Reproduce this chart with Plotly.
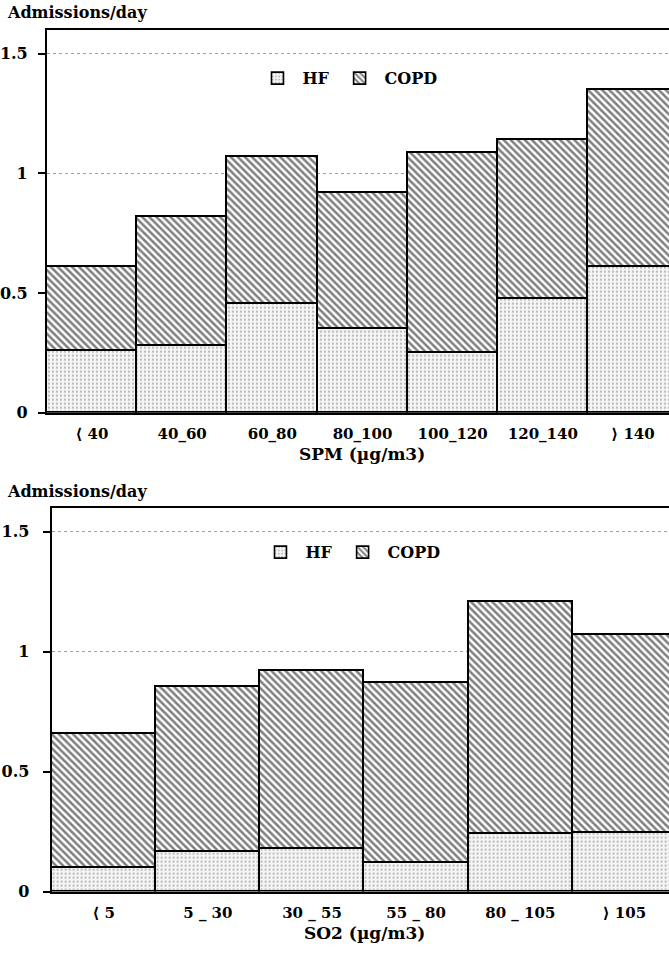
import plotly.graph_objects as go

# Daily admissions by pollutant band: heart failure (HF) and COPD, stacked
spm_bands = ["⟨ 40", "40_60", "60_80", "80_100", "100_120", "120_140", "⟩ 140"]
spm_total = [0.61, 0.82, 1.07, 0.92, 1.085, 1.14, 1.35]
spm_hf = [0.26, 0.28, 0.455, 0.35, 0.25, 0.475, 0.61]
spm_copd = [t - h for t, h in zip(spm_total, spm_hf)]

so2_bands = ["⟨ 5", "5 _ 30", "30 _ 55", "55 _ 80", "80 _ 105", "⟩ 105"]
so2_total = [0.66, 0.855, 0.92, 0.87, 1.21, 1.07]
so2_hf = [0.10, 0.165, 0.18, 0.12, 0.24, 0.245]
so2_copd = [t - h for t, h in zip(so2_total, so2_hf)]

y_ticks = [0, 0.5, 1, 1.5]
y_ticktext = ["0", "0.5", "1", "1.5"]

W, H = 669, 958
FONT = "DejaVu Serif"


def px_x(v):
    return v / W


def px_y(v):
    return 1 - v / H


hf_style = dict(
    color="#f4f4f4",
    line=dict(color="black", width=1.6),
    pattern=dict(shape=".", fgcolor="#7a7a7a", bgcolor="#f6f6f6", size=4, solidity=0.25),
)
copd_style = dict(
    color="white",
    line=dict(color="black", width=1.6),
    pattern=dict(shape="\\", fgcolor="black", bgcolor="white", size=5, solidity=0.5),
)

fig = go.Figure()

# upper panel: SPM
fig.add_trace(go.Bar(x=spm_bands, y=spm_hf, name="HF", marker=hf_style,
                     xaxis="x", yaxis="y", legend="legend"))
fig.add_trace(go.Bar(x=spm_bands, y=spm_copd, name="COPD", marker=copd_style,
                     xaxis="x", yaxis="y", legend="legend"))
# lower panel: SO2
fig.add_trace(go.Bar(x=so2_bands, y=so2_hf, name="HF", marker=hf_style,
                     xaxis="x2", yaxis="y2", legend="legend2"))
fig.add_trace(go.Bar(x=so2_bands, y=so2_copd, name="COPD", marker=copd_style,
                     xaxis="x2", yaxis="y2", legend="legend2"))

tickfont = dict(family=FONT, size=15, color="black", weight="bold")

xcommon = dict(
    type="category", showgrid=False, zeroline=False,
    showline=True, linecolor="black", linewidth=2, mirror=True,
    ticks="", tickfont=tickfont, ticklabelstandoff=6, fixedrange=True,
)
ycommon = dict(
    range=[0, 1.6], tickvals=y_ticks, ticktext=y_ticktext,
    showgrid=True, gridcolor="#a0a0a0", griddash="dot", gridwidth=1,
    zeroline=False, showline=True, linecolor="black", linewidth=2,
    ticks="outside", ticklen=7, tickwidth=2, tickcolor="black",
    tickfont=dict(tickfont, size=16), fixedrange=True,
)

# upper panel spans x 46..(678, clipped), y 30..417 px
fig.update_layout(
    xaxis=dict(xcommon, domain=[px_x(46), 1], anchor="y",
               range=[-0.5, -0.5 + (W - 46) / 90.3]),
    yaxis=dict(ycommon, domain=[px_y(417), px_y(30)], anchor="x",
               ticklabelstandoff=7),
    xaxis2=dict(xcommon, domain=[px_x(50.7), 1], anchor="y2",
                range=[-0.5, -0.5 + (W - 50.7) / 104.3]),
    yaxis2=dict(ycommon, domain=[px_y(901), px_y(513)], anchor="x2",
                ticklabelstandoff=10),
)

legend_common = dict(
    orientation="h", xanchor="center", yanchor="middle",
    font=dict(family=FONT, size=16, color="black", weight="bold"),
    bgcolor="rgba(0,0,0,0)", itemwidth=40, traceorder="normal",
)
fig.update_layout(
    legend=dict(legend_common, x=px_x(347), y=px_y(79)),
    legend2=dict(legend_common, x=px_x(350), y=px_y(558)),
)

annots = [
    dict(text="Admissions/day", x=px_x(4), y=px_y(13)),
    dict(text="Admissions/day", x=px_x(4), y=px_y(497)),
]
for a in annots:
    fig.add_annotation(a, xref="paper", yref="paper", xanchor="left", yanchor="middle",
                       showarrow=False, font=dict(family=FONT, size=16, color="black", weight="bold"))

for text, cx, cy in [("SPM (µg/m3)", 362, 459), ("SO2 (µg/m3)", 364, 943)]:
    fig.add_annotation(text=text, x=px_x(cx), y=px_y(cy), xref="paper", yref="paper",
                       xanchor="center", yanchor="middle", showarrow=False,
                       font=dict(family=FONT, size=17, color="black", weight=600))

fig.update_layout(
    width=W, height=H, barmode="stack", bargap=0,
    margin=dict(l=0, r=0, t=0, b=0),
    paper_bgcolor="white", plot_bgcolor="white",
    showlegend=True,
)

fig.write_html("out.html", config={"displayModeBar": False})
